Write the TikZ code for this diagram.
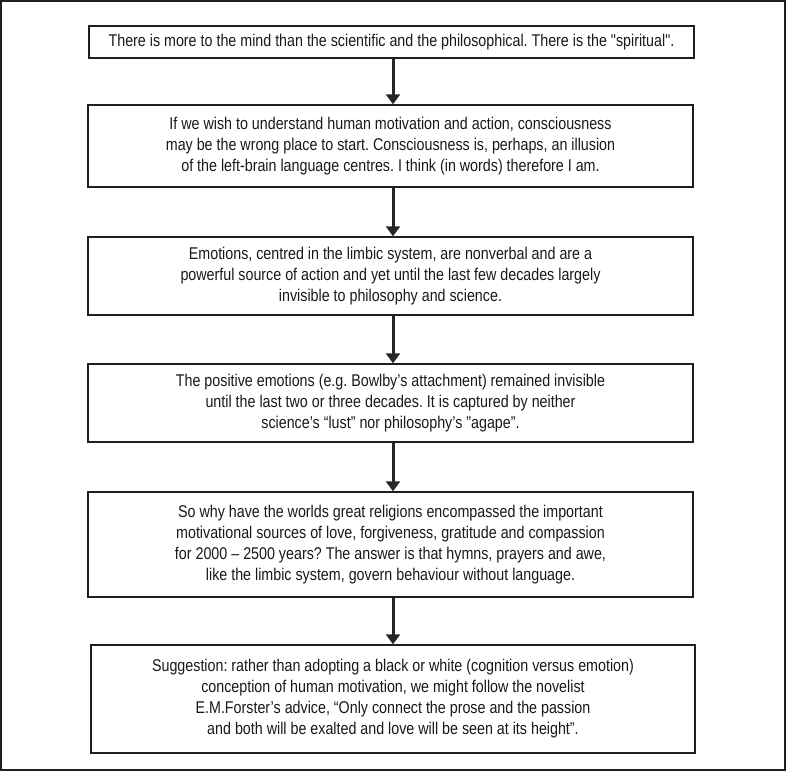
\documentclass[tikz,border=0pt]{standalone}
\usepackage{fontspec}
\newfontfamily\narrowfont{Liberation Sans}[FakeStretch=0.84]
\usetikzlibrary{arrows.meta}
\frenchspacing
\begin{document}
\begin{tikzpicture}[x=1pt,y=-1pt]
\tikzset{
 txtbox/.style={draw=black!88, line width=1.4pt, align=center, inner sep=0pt,
   text=black!90, font=\narrowfont\fontsize{17}{21}\selectfont},
 flow/.style={line width=3pt, draw=black!85, -{Triangle[length=10pt,width=14pt]}}
}
\useasboundingbox (0,0) rectangle (786,771);
\draw[line width=2pt, draw=black!88] (1,1) rectangle (785,770);
\node[txtbox, minimum width=605pt, minimum height=32pt] (b1) at (391.5,42)
 {There is more to the mind than the scientific and the philosophical. There is the "spiritual".};
\node[txtbox, minimum width=605pt, minimum height=82pt] (b2) at (390.5,146)
 {If we wish to understand human motivation and action, consciousness\\
  may be the wrong place to start. Consciousness is, perhaps, an illusion\\
  of the left-brain language centres. I think (in words) therefore I am.};
\node[txtbox, minimum width=605pt, minimum height=78pt] (b3) at (390.5,276)
 {Emotions, centred in the limbic system, are nonverbal and are a\\
  powerful source of action and yet until the last few decades largely\\
  invisible to philosophy and science.};
\node[txtbox, minimum width=605pt, minimum height=78pt] (b4) at (390.5,403)
 {The positive emotions (e.g. Bowlby’s attachment) remained invisible\\
  until the last two or three decades. It is captured by neither\\
  science’s “lust” nor philosophy’s ”agape”.};
\node[txtbox, minimum width=605pt, minimum height=105pt] (b5) at (390.5,544.5)
 {So why have the worlds great religions encompassed the important\\
  motivational sources of love, forgiveness, gratitude and compassion\\
  for 2000 – 2500 years? The answer is that hymns, prayers and awe,\\
  like the limbic system, govern behaviour without language.};
\node[txtbox, minimum width=604pt, minimum height=108pt] (b6) at (393,699)
 {Suggestion: rather than adopting a black or white (cognition versus emotion)\\
  conception of human motivation, we might follow the novelist\\
  E.M.Forster’s advice, “Only connect the prose and the passion\\
  and both will be exalted and love will be seen at its height”.};
\draw[flow] ([xshift=1.5pt]b1.south) -- ([xshift=1.5pt]b1.south |- b2.north);
\draw[flow] ([xshift=2.5pt]b2.south) -- ([xshift=2.5pt]b2.south |- b3.north);
\draw[flow] ([xshift=2.5pt]b3.south) -- ([xshift=2.5pt]b3.south |- b4.north);
\draw[flow] ([xshift=2.5pt]b4.south) -- ([xshift=2.5pt]b4.south |- b5.north);
\draw[flow] ([xshift=2.5pt]b5.south) -- ([xshift=2.5pt]b5.south |- b6.north);
\end{tikzpicture}
\end{document}
